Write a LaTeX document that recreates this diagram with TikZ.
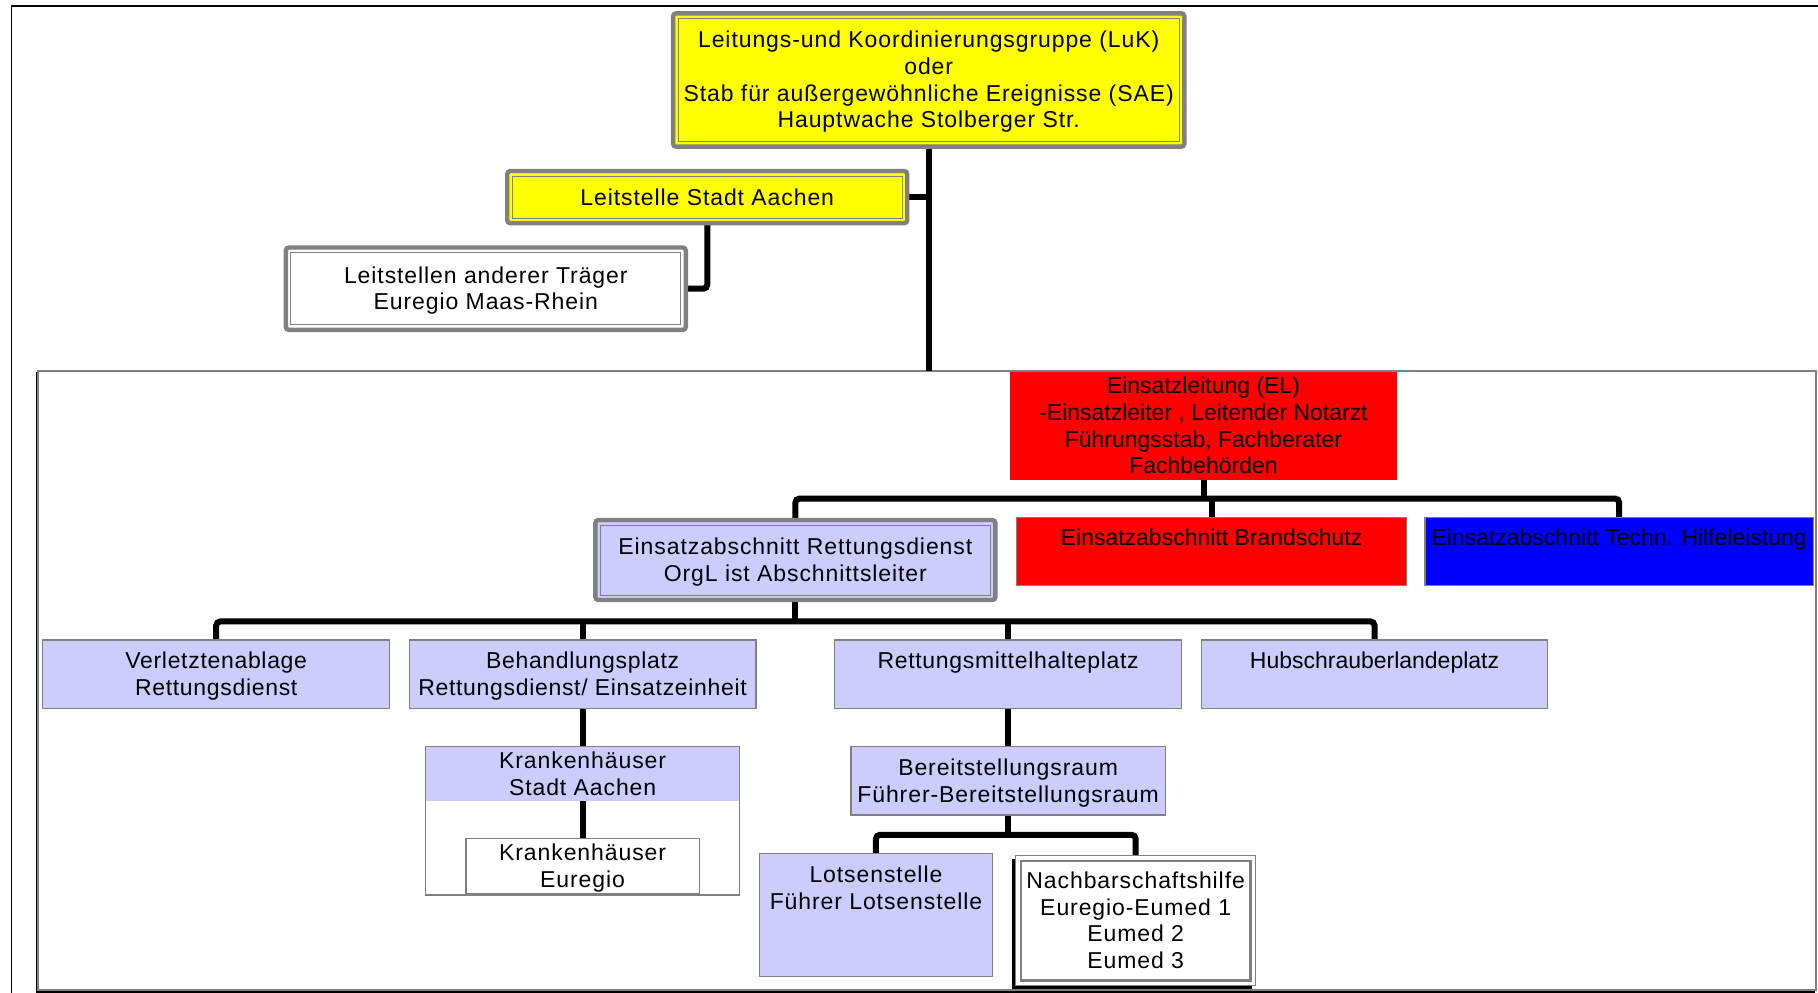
\documentclass[tikz,border=0pt]{standalone}
\usepackage{fontspec}
\setmainfont{Liberation Sans}
\newfontfamily\spfont{Liberation Sans}[LetterSpace=4]
\newfontfamily\mdfont{Liberation Sans}[LetterSpace=3]
\usetikzlibrary{shadows}
\definecolor{frgray}{HTML}{808080}
\definecolor{lav}{HTML}{CCCCFF}
\definecolor{yel}{HTML}{FFFF00}
\definecolor{redf}{HTML}{FF0000}
\definecolor{bluef}{HTML}{0000FF}
\pgfdeclarelayer{bg}
\pgfsetlayers{bg,main}
\begin{document}
\begin{tikzpicture}[x=0.58pt,y=-0.58pt,
  every node/.style={font=\fontsize{11.5}{13.34}\selectfont, align=center,
    inner sep=0pt, outer sep=0pt, execute at begin node=\strut, execute at end node=\strut,
    text depth=0.5pt},
  spf/.style={font=\spfont\fontsize{11.5}{13.34}\selectfont},
  mdf/.style={font=\mdfont\fontsize{11.5}{13.34}\selectfont},
  sz/.style 2 args={minimum width=#1*0.58pt, minimum height=#2*0.58pt},
  flat/.style={draw=frgray, line width=0.6pt, fill=lav},
  framed/.style={spf, draw=frgray, line width=2.2pt, rounded corners=1.5pt,
    path picture={\draw[frgray, line width=0.5pt, sharp corners]
      ([shift={(2.5pt,-2.5pt)}]path picture bounding box.north west) rectangle
      ([shift={(-2.5pt,2.5pt)}]path picture bounding box.south east);}},
  nbbox/.style={spf, draw=frgray, line width=0.7pt, fill=white,
    drop shadow={shadow xshift=-1.8pt, shadow yshift=-1.8pt, fill=black, opacity=1},
    path picture={\draw[frgray, line width=1.2pt]
      ([shift={(2.6pt,-2.6pt)}]path picture bounding box.north west) rectangle
      ([shift={(-2.6pt,2.6pt)}]path picture bounding box.south east);}},
  conn/.style={line width=3pt, black, rounded corners=2pt}
]
\useasboundingbox (0,0) rectangle (1568,856);
\begin{pgfonlayer}{bg}
  \fill[white] (0,0) rectangle (1568,856);
  \draw[line width=0.9pt] (10,860) -- (10,5) -- (1570,5);
  \draw[line width=1pt] (31.5,321.5) rectangle (1564.5,855.5);
  \draw[frgray, line width=1pt, fill=white] (33,320) rectangle (1566,854);
\end{pgfonlayer}

\node[framed, fill=yel, sz={441}{115}] (luk) at (801,69)
  {Leitungs-und Koordinierungsgruppe (LuK)\\oder\\Stab für außergewöhnliche Ereignisse (SAE)\\Hauptwache Stolberger Str.};
\node[framed, fill=yel, sz={345}{45}] (lsa) at (610,170) {Leitstelle Stadt Aachen};
\node[framed, fill=white, sz={345}{71}] (lat) at (419,249) {Leitstellen anderer Träger\\Euregio Maas-Rhein};

\node[fill=redf, sz={334}{93}] (el) at (1038,367.5)
  {Einsatzleitung (EL)\\-Einsatzleiter , Leitender Notarzt\\Führungsstab, Fachberater\\Fachbehörden};
\node[framed, fill=lav, sz={345}{69}] (rdn) at (686,483) {Einsatzabschnitt Rettungsdienst\\OrgL ist Abschnittsleiter};
\node[flat, fill=redf, sz={336}{59}] (bs) at (1045,475.5) {Einsatzabschnitt Brandschutz\\};
\node[flat, fill=bluef, sz={335}{59}] (th) at (1396.5,475.5) {Einsatzabschnitt Techn. Hilfeleistung\\};

\node[flat, mdf, sz={299}{59}] (va) at (186.5,581.5) {Verletztenablage\\Rettungsdienst};
\node[flat, mdf, sz={299}{59}] (bp) at (502.5,581.5) {Behandlungsplatz\\Rettungsdienst/ Einsatzeinheit};
\node[flat, mdf, sz={299}{59}] (rm) at (869.5,581.5) {Rettungsmittelhalteplatz\\};
\node[flat, sz={299}{59}] (hl) at (1185.5,581.5) {Hubschrauberlandeplatz\\};

\node[spf, fill=lav, sz={271}{47}] (kha) at (502.5,667.5) {Krankenhäuser\\Stadt Aachen};
\coordinate (kbot) at (0,772);
\draw[frgray, line width=0.6pt] (kha.north west) rectangle (kha.east |- kbot);
\node[flat, spf, fill=white, sz={201}{48}] (khe) at (502.5,747) {Krankenhäuser\\Euregio};

\node[flat, spf, sz={271}{59}] (br) at (869.5,673.5) {Bereitstellungsraum\\Führer-Bereitstellungsraum};
\node[flat, spf, sz={201}{106}] (lo) at (755.5,789) {Lotsenstelle\\Führer Lotsenstelle\\\strut\\};
\node[nbbox, sz={207}{112}] (nb) at (979.5,794) {Nachbarschaftshilfe\\Euregio-Eumed 1\\Eumed 2\\Eumed 3};

\coordinate (ftop) at (0,320);
\coordinate (b1) at (0,430);
\coordinate (b2) at (0,536);
\coordinate (b3) at (0,720);
\begin{pgfonlayer}{bg}
  \draw[conn] (luk.south) -- (luk.south |- ftop);
  \draw[conn] (lsa.east) -- (lsa.east -| luk.south);
  \draw[conn] (lsa.south) |- (lat.east);
  \draw[conn] (el.south) -- (el.south |- b1);
  \draw[conn] (rdn.north) -- (rdn.north |- b1) -- (th.north |- b1) -- (th.north);
  \draw[conn] (bs.north) -- (bs.north |- b1);
  \draw[conn] (rdn.south) -- (rdn.south |- b2);
  \draw[conn] (va.north) -- (va.north |- b2) -- (hl.north |- b2) -- (hl.north);
  \draw[conn] (bp.north) -- (bp.north |- b2);
  \draw[conn] (rm.north) -- (rm.north |- b2);
  \draw[conn] (bp.south) -- (kha.north);
  \draw[conn] (kha.south) -- (khe.north);
  \draw[conn] (rm.south) -- (br.north);
  \draw[conn] (br.south) -- (br.south |- b3);
  \draw[conn] (lo.north) -- (lo.north |- b3) -- (nb.north |- b3) -- (nb.north);
\end{pgfonlayer}
\end{tikzpicture}
\end{document}
